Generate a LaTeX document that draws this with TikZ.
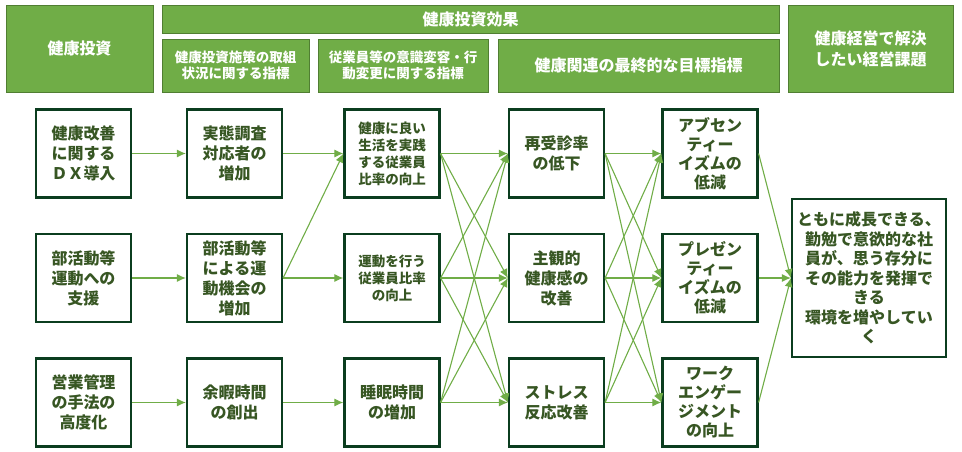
\documentclass[tikz,border=0pt]{standalone}
\usepackage{fontspec}
\setmainfont{Noto Sans CJK JP}
\usetikzlibrary{arrows.meta}
\definecolor{hdrfill}{HTML}{70AD47}
\definecolor{hdrline}{HTML}{507E32}
\definecolor{boxline}{HTML}{0B3D1F}
\definecolor{txt}{HTML}{375623}
\definecolor{conncol}{HTML}{70AD47}
\begin{document}
\begin{tikzpicture}[x=1pt,y=-1pt,
 hdr/.style={draw=hdrline, fill=hdrfill, line width=1pt, text=white, font=\bfseries\fontsize{16}{21}\selectfont, align=center, inner sep=0pt},
 box/.style={draw=boxline, line width=2.2pt, minimum width=95pt, minimum height=88pt, inner sep=0pt, text=txt, font=\bfseries\fontsize{16}{20}\selectfont, align=center},
 sm/.style={font=\bfseries\fontsize{13.5}{17}\selectfont},
 subh/.style={font=\bfseries\fontsize{13.5}{16}\selectfont},
 conn/.style={draw=conncol, line width=1.1pt, -{Latex[length=9pt,width=8pt]}}]
\useasboundingbox (0,0) rectangle (962,451);
% headers
\node[hdr, minimum width=147pt, minimum height=87pt] (h1) at (79.5,48.5) {健康投資};
\node[hdr, minimum width=617pt, minimum height=28pt] (hbar) at (470.5,19) {健康投資効果};
\node[hdr, subh, minimum width=147pt, minimum height=53pt] (s1) at (235.5,65.5) {健康投資施策の取組\\状況に関する指標};
\node[hdr, subh, minimum width=170pt, minimum height=53pt] (s2) at (403,65.5) {従業員等の意識変容・行\\動変更に関する指標};
\node[hdr, minimum width=281pt, minimum height=53pt] (s3) at (638.5,65.5) {健康関連の最終的な目標指標};
\node[hdr, minimum width=165pt, minimum height=87pt] (hr) at (870.5,48.5) {健康経営で解決\\したい経営課題};
% column 1
\node[box] (a1) at (83.5,153.5) {健康改善\\に関する\\ＤＸ導入};
\node[box] (a2) at (83.5,278) {部活動等\\運動への\\支援};
\node[box] (a3) at (83.5,402.5) {営業管理\\の手法の\\高度化};
% column 2
\node[box] (b1) at (234.5,153.5) {実態調査\\対応者の\\増加};
\node[box] (b2) at (234.5,278) {部活動等\\による運\\動機会の\\増加};
\node[box] (b3) at (234.5,402.5) {余暇時間\\の創出};
% column 3
\node[box, sm] (c1) at (392,153.5) {健康に良い\\生活を実践\\する従業員\\比率の向上};
\node[box, sm] (c2) at (392,278) {運動を行う\\従業員比率\\の向上};
\node[box] (c3) at (392,402.5) {睡眠時間\\の増加};
% column 4
\node[box] (d1) at (556.5,153.5) {再受診率\\の低下};
\node[box] (d2) at (556.5,278) {主観的\\健康感の\\改善};
\node[box] (d3) at (556.5,402.5) {ストレス\\反応改善};
% column 5
\node[box, font=\bfseries\fontsize{16}{19}\selectfont] (e1) at (710,153.5) {アブセン\\ティー\\イズムの\\低減};
\node[box, font=\bfseries\fontsize{16}{19}\selectfont] (e2) at (710,278) {プレゼン\\ティー\\イズムの\\低減};
\node[box, font=\bfseries\fontsize{16}{19}\selectfont] (e3) at (710,402.5) {ワーク\\エンゲー\\ジメント\\の向上};
% right box
\node[box, minimum width=154pt, minimum height=158pt, font=\bfseries\fontsize{16}{19.5}\selectfont] (rb) at (869,278) {ともに成長できる、\\勤勉で意欲的な社\\員が、思う存分に\\その能力を発揮で\\きる\\環境を増やしてい\\く};
% connectors
\draw[conn] (a1.east) -- (b1.west);
\draw[conn] (a2.east) -- (b2.west);
\draw[conn] (a3.east) -- (b3.west);
\draw[conn] (b1.east) -- (c1.west);
\draw[conn] (b2.east) -- (c1.west);
\draw[conn] (b2.east) -- (c2.west);
\draw[conn] (b3.east) -- (c3.west);
\foreach \s in {c1,c2,c3}{
  \foreach \t in {d1,d2,d3}{
    \draw[conn] (\s.east) -- (\t.west);
  }
}
\foreach \s in {d1,d2,d3}{
  \foreach \t in {e1,e2,e3}{
    \draw[conn] (\s.east) -- (\t.west);
  }
}
\draw[conn] (e1.east) -- (rb.west);
\draw[conn] (e2.east) -- (rb.west);
\draw[conn] (e3.east) -- (rb.west);
\end{tikzpicture}
\end{document}
